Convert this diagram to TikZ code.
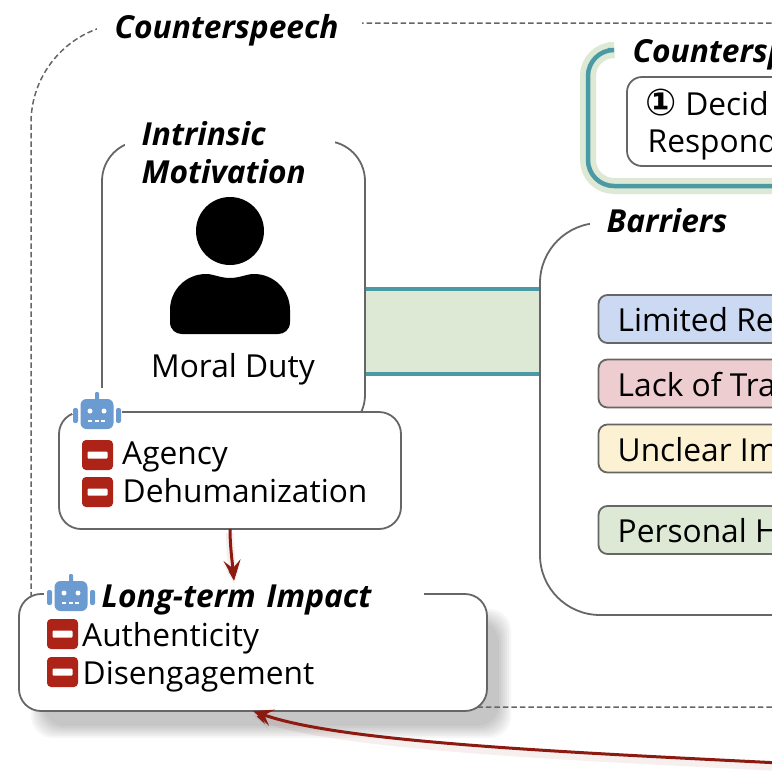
\documentclass[tikz,border=0pt]{standalone}
\usepackage{fontspec}
\setmainfont{Open Sans}
\newfontfamily\symbolfont{DejaVu Sans}
\usetikzlibrary{arrows.meta}
\definecolor{linegray}{HTML}{666666}
\definecolor{bandgreen}{HTML}{DDE8D5}
\definecolor{bandteal}{HTML}{4A9AA6}
\definecolor{robotblue}{HTML}{6C9BD2}
\definecolor{minusred}{HTML}{AE2317}
\definecolor{arrowred}{HTML}{8C1A11}
\definecolor{tagblue}{HTML}{CCD9F2}
\definecolor{tagred}{HTML}{EECDD0}
\definecolor{tagyellow}{HTML}{FCF1D3}
\newcommand{\bodyfont}{\fontsize{31.7}{38}\selectfont}
\newcommand{\headfont}{\fontsize{31.7}{38}\selectfont\bfseries\itshape}
\tikzset{
	panel/.style={draw=linegray, line width=1.8pt, rounded corners=22pt, fill=white, anchor=north west, inner sep=0pt, outer sep=0pt},
	tagbox/.style={panel, rounded corners=9pt, minimum width=300pt, minimum height=48pt},
	bodytext/.style={anchor=base west, inner sep=0pt, font=\bodyfont},
	headtext/.style={anchor=base west, inner sep=0pt, font=\headfont},
	headpatch/.style={anchor=base west, fill=white, inner ysep=4pt, align=left, font=\headfont},
	redarrow/.style={-{Stealth[length=20pt, width=17pt, inset=8pt]}, draw=arrowred, line width=3pt,
		preaction={draw=arrowred, draw opacity=.07, line width=8pt, transform canvas={yshift=-4pt}}},
	robot/.pic={
		\fill[robotblue, rounded corners=6pt] (-16.5,-15) rectangle (16.5,15);
		\fill[robotblue, rounded corners=2pt] (-24,-6) rectangle (-19,9);
		\fill[robotblue, rounded corners=2pt] (19,-6) rectangle (24,9);
		\fill[robotblue, rounded corners=1pt] (-2,-22) rectangle (2,-14);
		\fill[white] (-7,-3) circle (2.5) (7,-3) circle (2.5);
		\draw[white, line width=1.3pt, dash pattern=on 4pt off 2.5pt] (-9,7) -- (10,7);
	},
	minusbadge/.pic={
		\fill[minusred, rounded corners=4pt] (-15.5,-15) rectangle (15.5,15);
		\fill[white, rounded corners=1pt] (-10,-3.5) rectangle (10,3.5);
	}
}
\begin{document}
\begin{tikzpicture}[x=1pt, y=-1pt]
	\useasboundingbox (0,0) rectangle (772,772);
	\clip (0,0) rectangle (772,772);

	% Shadow of the impact box
	\foreach \blur in {-6,-4,-2,0,2,4,6}
		\fill[black, opacity=.034, rounded corners=22pt] (37-\blur,615-\blur) rectangle (505+\blur,732+\blur);

	% Outer frame
	\draw (31,23) node[panel, fill=none, draw=linegray, line width=1.5pt, dash pattern=on 5.5pt off 3pt, rounded corners=100pt, minimum width=900pt, minimum height=684pt] (outerframe) {};
	\draw (97,38) node[headpatch, inner xsep=17.5pt, text width=230pt] (outertitle) {Counterspeech};

	% Band between the panels
	\draw (360,289) node[anchor=north west, fill=bandgreen, inner sep=0pt, outer sep=0pt, minimum width=190pt, minimum height=85pt] (band) {};
	\draw[bandteal, line width=3.2pt] (band.north west) -- (band.north east);
	\draw[bandteal, line width=3.2pt] (band.south west) -- (band.south east);

	% Process frame
	\draw[bandgreen, line width=16pt, rounded corners=26pt] (608,50) -- (588,50) -- (588,186) -- (800,186);
	\draw[bandteal, line width=4.5pt, rounded corners=26pt] (608,50) -- (588,50) -- (588,186) -- (800,186);
	\draw (632.5,62) node[headtext] (processtitle) {Countersp};
	\draw (627,77) node[panel, rounded corners=15pt, minimum width=300pt, minimum height=89pt] (decidebox) {};
	\draw (645.5,115) node[bodytext] (decideone) {{\symbolfont\bfseries\fontsize{37}{38}\selectfont ①} Decid};
	\draw (647.5,152) node[bodytext] (decidetwo) {Respond};

	% Barriers
	\draw (540,223) node[panel, rounded corners=60pt, minimum width=400pt, minimum height=392pt] (barriers) {};
	\draw (590,232) node[headpatch, inner xsep=16.5pt, text width=200pt] (barrierstitle) {Barriers};
	\draw (598.5,295) node[tagbox, fill=tagblue] (tagone) {};
	\draw (598.5,359.5) node[tagbox, fill=tagred] (tagtwo) {};
	\draw (598.5,424.5) node[tagbox, fill=tagyellow] (tagthree) {};
	\draw (598.5,506) node[tagbox, fill=bandgreen] (tagfour) {};
	\draw (617.5,331) node[bodytext] (tagonetext) {Limited Re};
	\draw (617.5,396) node[bodytext] (tagtwotext) {Lack of Tra};
	\draw (617.5,461) node[bodytext] (tagthreetext) {Unclear Im};
	\draw (617.5,542) node[bodytext] (tagfourtext) {Personal H};

	% Intrinsic motivation
	\draw (102,141) node[panel, rounded corners=40pt, minimum width=263pt, minimum height=294pt] (intrinsic) {};
	\draw (125,145) node[headpatch, inner xsep=16.5pt, text width=177pt] (intrinsictitle) {Intrinsic\\Motivation};
	\fill (230,231) circle (34);
	\fill (170,322) -- (170,310) .. controls (170,290) and (186,274) .. (206,274) .. controls (214,274) and (220,278) .. (230,278) .. controls (240,278) and (246,274) .. (254,274) .. controls (274,274) and (290,290) .. (290,310) -- (290,322) .. controls (290,330) and (284,334) .. (278,334) -- (182,334) .. controls (176,334) and (170,330) .. (170,322) -- cycle;
	\draw (151,377) node[bodytext] (moralduty) {Moral Duty};

	% Agency box
	\draw (59,412) node[panel, minimum width=342pt, minimum height=117pt] (agency) {};
	\fill[white] (72,388) rectangle (122,414);
	\draw (97,414) pic {robot};
	\draw (97.5,455) pic {minusbadge};
	\draw (97.5,492) pic {minusbadge};
	\draw (122,464) node[bodytext] (agencytext) {Agency};
	\draw (122.5,502) node[bodytext] (dehumantext) {Dehumanization};

	% Long-term impact box
	\draw (19,594) node[panel, minimum width=468pt, minimum height=117pt] (impact) {};
	\draw (44,607) node[headpatch, inner xsep=40pt, text width=300pt] (impacttitle) {\hspace*{17.5pt}Long-term Impact};
	\draw (71,596) pic {robot};
	\draw (62.5,634) pic {minusbadge};
	\draw (62.5,672) pic {minusbadge};
	\draw (82,646) node[bodytext] (authentictext) {Authenticity};
	\draw (82.5,684) node[bodytext] (disengagetext) {Disengagement};

	% Arrows
	\coordinate (arrowstart) at (780,763);
	\draw[redarrow] (agency.south) .. controls (230,545) and (232,560) .. (impacttitle.north);
	\draw[redarrow] (arrowstart) .. controls (560,752) and (340,742) .. (impact.south);
\end{tikzpicture}
\end{document}
